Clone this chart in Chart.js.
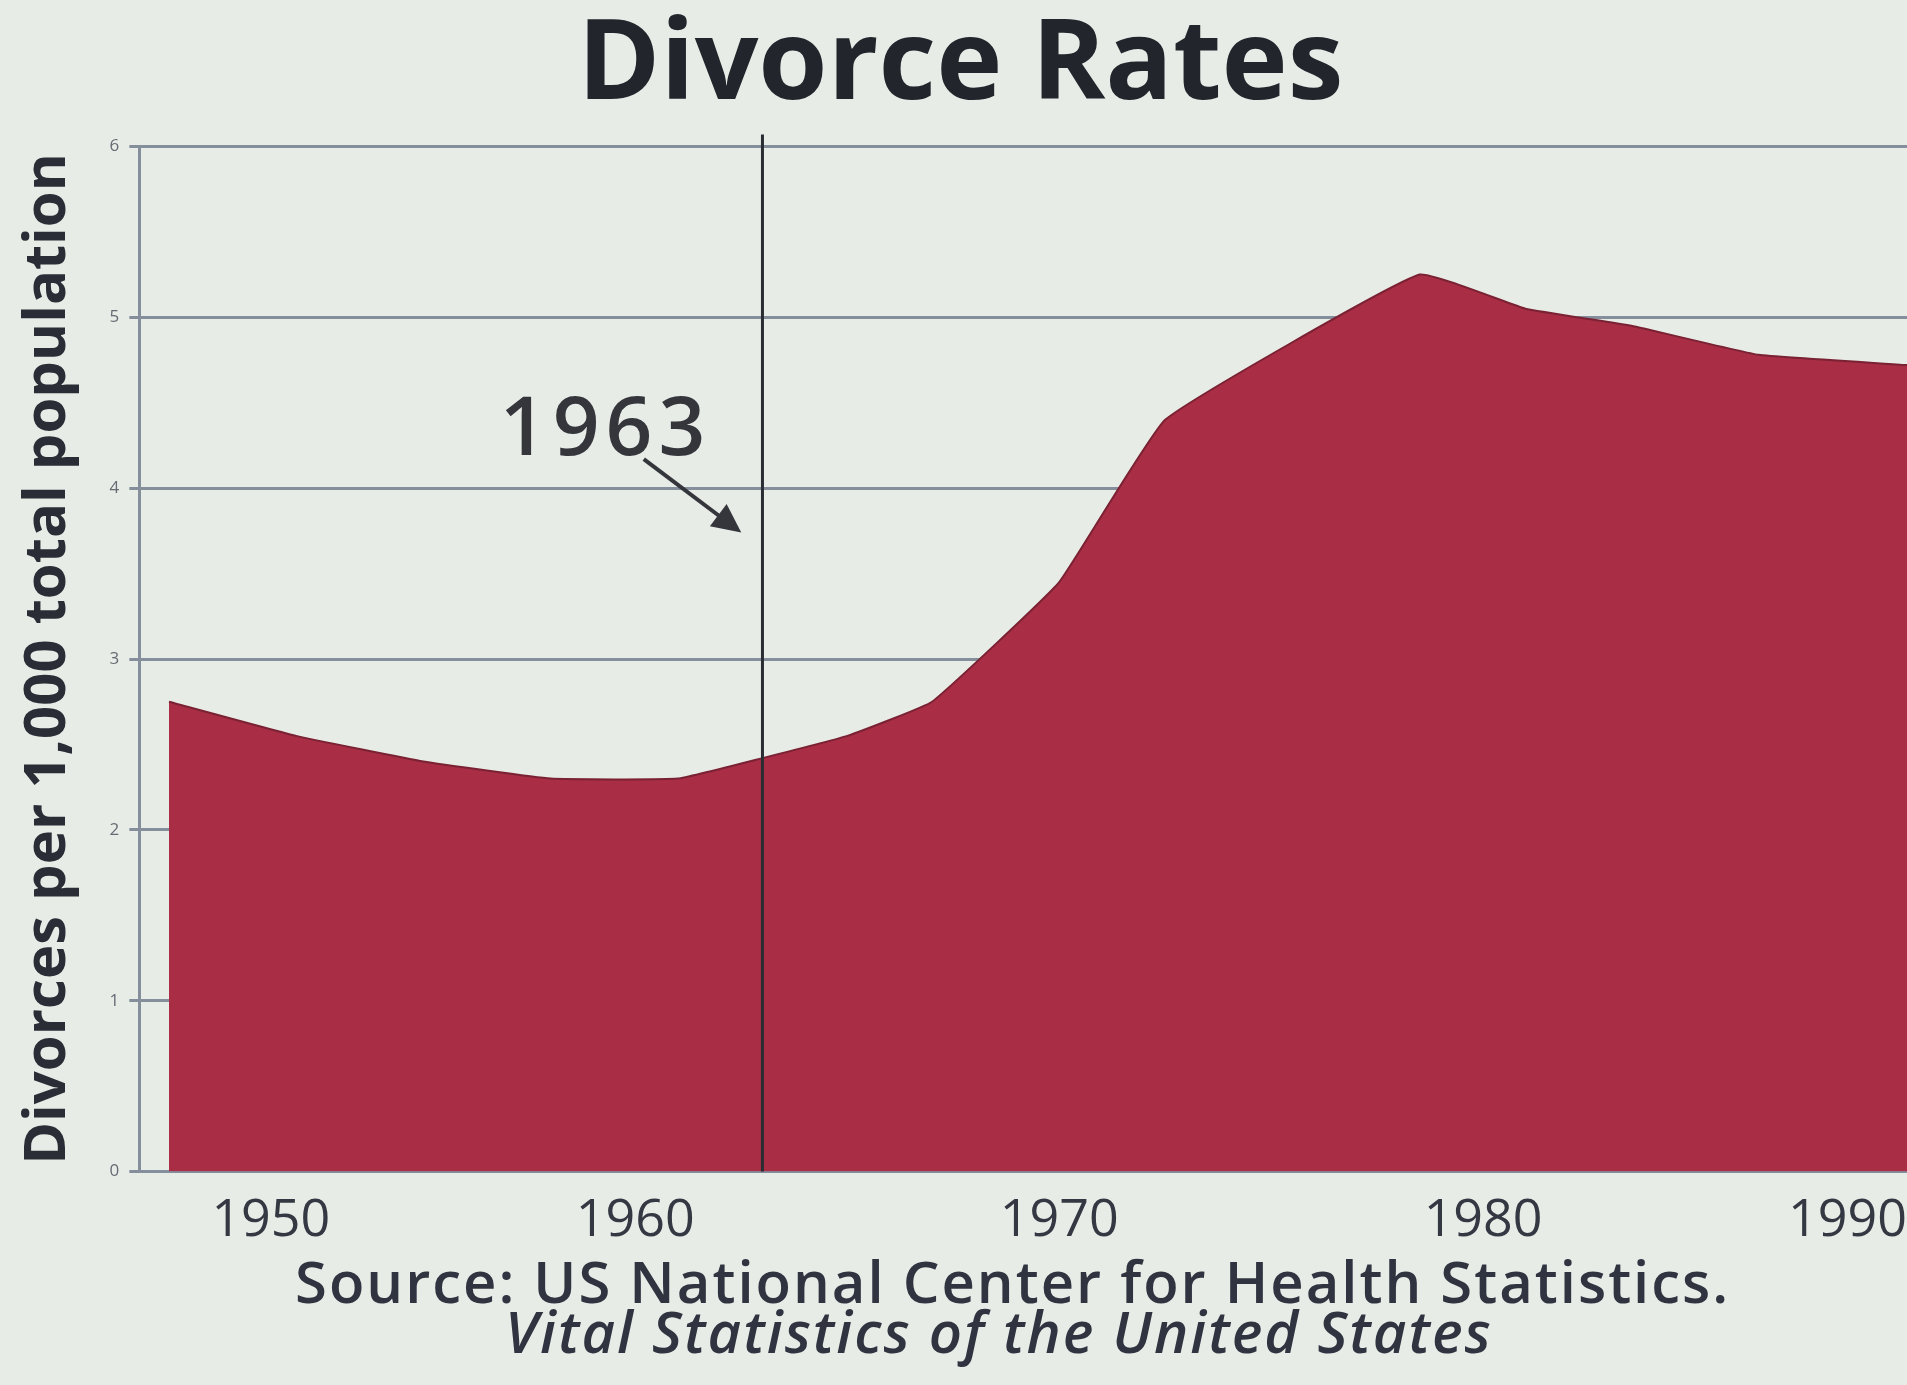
<!DOCTYPE html>
<html>
<head>
<meta charset="utf-8">
<script src="https://cdn.jsdelivr.net/npm/chart.js@4/dist/chart.umd.min.js"></script>
<style>
  body { margin: 0; background: #e8ece7; width: 1907px; height: 1385px; overflow: hidden; position: relative; font-family: "Open Sans", sans-serif; }
  #wrap { position: absolute; left: 0; top: 0; width: 1907px; height: 1262px; }
  .src { position: absolute; color: #2f3440; font-size: 58px; line-height: 58px; white-space: nowrap; letter-spacing: 2px; }
  #src1 { left: 295px; top: 1252px; font-weight: 600; }
  #src2 { left: 505px; top: 1302px; font-style: italic; font-weight: 600; }
</style>
</head>
<body>
<div id="wrap"><canvas id="myChart"></canvas></div>
<div class="src" id="src1">Source: US National Center for Health Statistics.</div>
<div class="src" id="src2">Vital Statistics of the United States</div>
<script>
const years = [1949, 1952, 1955, 1958, 1961, 1963, 1965, 1967, 1970, 1972.5, 1978.5, 1981, 1983.5, 1986.5, 1990];
const rates = [2.75, 2.55, 2.4, 2.3, 2.3, 2.42, 2.55, 2.75, 3.45, 4.4, 5.25, 5.05, 4.95, 4.78, 4.72];
const tickYears = [1950, 1960, 1970, 1980, 1990];
const markYear = 1963;

// vertical 1963 line with label and arrow
const marker = {
  id: 'marker',
  afterDatasetsDraw(chart) {
    const { ctx, scales: { x, y }, chartArea } = chart;
    ctx.save();
    ctx.strokeStyle = '#2a2c33';
    ctx.lineWidth = 3;
    ctx.beginPath();
    ctx.moveTo(x.getPixelForValue(markYear), chartArea.top - 12);
    ctx.lineTo(x.getPixelForValue(markYear), y.getPixelForValue(0));
    ctx.stroke();

    ctx.fillStyle = '#34363c';
    ctx.font = '600 82px "Open Sans"';
    ctx.letterSpacing = '6px';
    ctx.textAlign = 'center';
    ctx.textBaseline = 'middle';
    ctx.fillText('1963', x.getPixelForValue(1959.3), y.getPixelForValue(4.33));
    ctx.letterSpacing = '0px';

    const x1 = x.getPixelForValue(1960.2), y1 = y.getPixelForValue(4.17);
    const x2 = x.getPixelForValue(1962.5), y2 = y.getPixelForValue(3.74);
    const ang = Math.atan2(y2 - y1, x2 - x1);
    ctx.strokeStyle = '#34363c';
    ctx.lineWidth = 4;
    ctx.beginPath();
    ctx.moveTo(x1, y1);
    ctx.lineTo(x2 - 20 * Math.cos(ang), y2 - 20 * Math.sin(ang));
    ctx.stroke();
    ctx.beginPath();
    ctx.moveTo(x2, y2);
    ctx.lineTo(x2 - 32 * Math.cos(ang - 0.45), y2 - 32 * Math.sin(ang - 0.45));
    ctx.lineTo(x2 - 32 * Math.cos(ang + 0.45), y2 - 32 * Math.sin(ang + 0.45));
    ctx.closePath();
    ctx.fill();
    ctx.restore();
  }
};

const ctx = document.getElementById('myChart');

new Chart(ctx, {
  type: 'line',
  data: {
    datasets: [{
      label: 'Divorce rate',
      data: years.map((yr, i) => ({ x: yr, y: rates[i] })),
      fill: 'origin',
      backgroundColor: '#a82d45',
      borderColor: '#7a2233',
      borderWidth: 2,
      pointRadius: 0,
      tension: 0.1
    }]
  },
  plugins: [marker],
  options: {
    responsive: true,
    maintainAspectRatio: false,
    animation: false,
    layout: { padding: { left: 14, right: 0, top: 0, bottom: 0 } },
    plugins: {
      legend: { display: false },
      tooltip: { enabled: false },
      title: {
        display: true,
        text: 'Divorce Rates',
        color: '#22252b',
        font: { family: 'Open Sans', size: 112, weight: 'bold' },
        padding: { top: 0, bottom: 12 }
      }
    },
    scales: {
      x: {
        type: 'linear',
        min: 1948.3,
        max: 1990,
        afterBuildTicks: axis => { axis.ticks = tickYears.map(v => ({ value: v })); },
        afterFit: axis => { axis.paddingRight = 0; },
        grid: { display: false },
        border: { display: false },
        ticks: {
          color: '#333842',
          font: { family: 'Open Sans', size: 52 },
          padding: 10,
          align: 'inner',
          maxRotation: 0,
          callback: v => String(v)
        }
      },
      y: {
        min: 0,
        max: 6,
        ticks: {
          stepSize: 1,
          color: '#666b73',
          font: { family: 'Open Sans', size: 17 },
          padding: 10
        },
        grid: { color: '#858e9b', lineWidth: 3, tickLength: 10 },
        border: { color: '#858e9b', width: 3 },
        title: {
          display: true,
          text: 'Divorces per 1,000 total population',
          color: '#2a2d35',
          font: { family: 'Open Sans', size: 58, weight: 'bold' },
          padding: { top: 0, bottom: 16 }
        }
      }
    }
  }
});
</script>
</body>
</html>
